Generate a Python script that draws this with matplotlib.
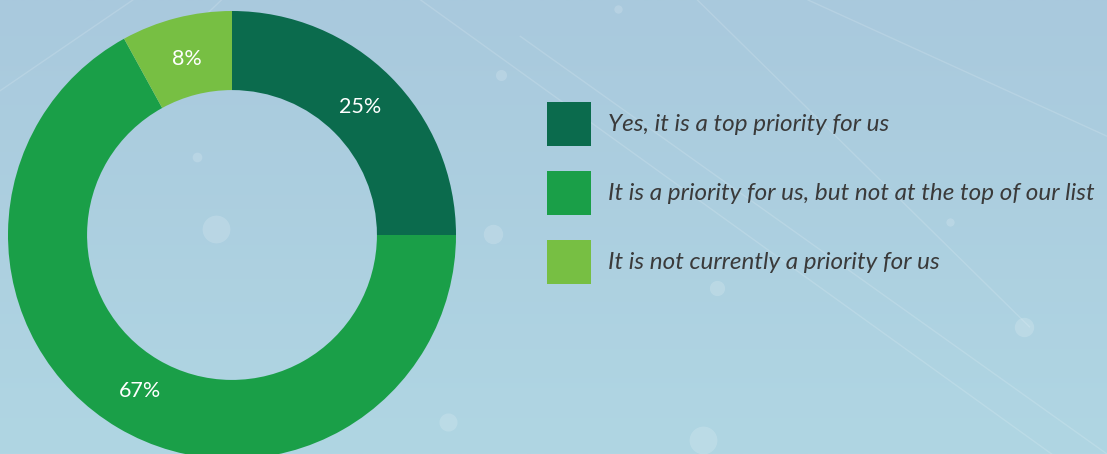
import numpy as np
import matplotlib.pyplot as plt

labels = ['Yes, it is a top priority for us',
          'It is a priority for us, but not at the top of our list',
          'It is not currently a priority for us']
values = [25, 67, 8]
colors = ['#0b6b4d', '#1a9f48', '#77bf43']

fig = plt.figure(figsize=(11.07, 4.54), dpi=100)

# background gradient
bg = fig.add_axes([0, 0, 1, 1])
grad = np.linspace(0, 1, 256).reshape(-1, 1)
top = np.array([169, 201, 221]) / 255
bot = np.array([176, 214, 227]) / 255
img = top + (bot - top) * grad[:, :, None]
bg.imshow(img, aspect='auto', extent=[0, 1, 0, 1], origin='upper')
# faint network lines
for x0, y0, x1, y1 in [(0.38, 1.0, 0.95, 0.0), (0.63, 1.0, 0.93, 0.28), (0.73, 1.0, 1.0, 0.70),
                       (0.47, 0.92, 1.0, 0.0), (0.0, 0.80, 0.12, 1.0), (0.02, 0.58, 0.20, 1.0)]:
    bg.plot([x0, x1], [y0, y1], color='white', alpha=0.15, lw=1.0)
for cx, cy, s in [(0.925, 0.28, 14), (0.648, 0.365, 11), (0.445, 0.485, 14), (0.405, 0.07, 13),
                  (0.635, 0.03, 20), (0.195, 0.495, 20), (0.558, 0.98, 6), (0.858, 0.51, 6),
                  (0.453, 0.835, 8), (0.178, 0.655, 7)]:
    bg.plot(cx, cy, 'o', ms=s, color='white', alpha=0.16, mec='none')
bg.set_xlim(0, 1)
bg.set_ylim(0, 1)
bg.axis('off')

# donut
ax = fig.add_axes([8 / 1107, -5 / 454, 448 / 1107, 448 / 454])
wedges, texts, autotexts = ax.pie(values, colors=colors, startangle=90, counterclock=False,
                                  radius=1, wedgeprops=dict(width=0.353, linewidth=0),
                                  autopct='%d%%', pctdistance=0.81,
                                  textprops=dict(color='white', fontsize=15.5, family='Lato'))
ax.set_xlim(-1, 1)
ax.set_ylim(-1, 1)
ax.axis('off')

fs = 17.5
fpx = fs * 100 / 72
fig.legend(wedges, labels, loc='upper left', bbox_to_anchor=(547 / 1107, 352 / 454),
           frameon=False, borderpad=0, borderaxespad=0,
           handlelength=44 / fpx, handleheight=(44 / fpx - 0.245) / 0.65,
           handletextpad=17 / fpx, labelspacing=25 / fpx, labelcolor='#3a3a3a',
           prop=dict(family='Lato', style='italic', size=fs))

fig.savefig('out.png', dpi=100)
